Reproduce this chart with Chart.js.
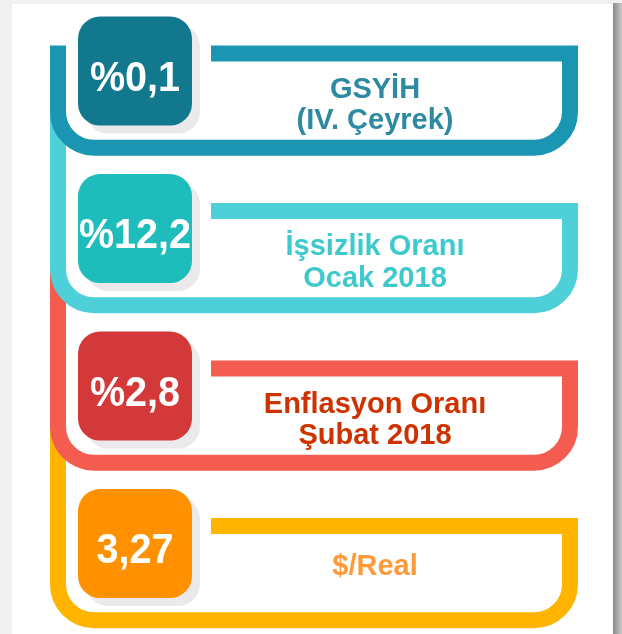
<!DOCTYPE html>
<html><head><meta charset="utf-8">
<script src="https://cdn.jsdelivr.net/npm/chart.js@4"></script>
<style>html,body{margin:0;padding:0;background:#fff}#wrap{width:622px;height:634px;position:relative}</style>
</head><body><div id="wrap"><canvas id="c"></canvas></div>
<script>
// ---- data ----
const categories = ['GSYİH', 'İşsizlik Oranı', 'Enflasyon Oranı', '$/Real'];
const subtitles = ['(IV. Çeyrek)', 'Ocak 2018', 'Şubat 2018', ''];
const values = [0.1, 12.2, 2.8, 3.27];
const prefixes = ['%', '%', '%', ''];

// ---- styles ----
const bandColors = ['#1a96b3', '#4dd0d7', '#f35c4e', '#ffb400'];
const boxColors = ['#12788e', '#1fbcbc', '#d4393a', '#ff9100'];
const textColors = ['#2e8aa2', '#3ec9cd', '#cc3300', '#ff9a3a'];

function fmt(v, p) { return p + String(v).replace('.', ','); }

const infographic = {
  id: 'infographic',
  beforeDraw(chart) {
    const ctx = chart.ctx, W = chart.width, H = chart.height;
    ctx.save();
    ctx.fillStyle = '#f0f0f0'; ctx.fillRect(0, 0, W, H);
    const g = ctx.createLinearGradient(613, 0, 622, 0);
    g.addColorStop(0, '#8a8a8a'); g.addColorStop(1, '#c8c8c8');
    ctx.fillStyle = g; ctx.fillRect(613, 3, 9, H - 3);
    ctx.fillStyle = '#ffffff'; ctx.fillRect(12, 4, 601, H - 4);
    ctx.restore();
  },
  afterDatasetsDraw(chart) {
    const ctx = chart.ctx, yS = chart.scales.y, ca = chart.chartArea;
    const x0 = ca.left;
    const L = x0 + 58, R = x0 + 570, barStart = x0 + 211, r = 36, lw = 16;
    const boxX = x0 + 78, boxW = 114, boxH = 109, boxR = 22;
    const rows = categories.map((c, i) => {
      const cy = yS.getPixelForValue(i);
      return { cy, top: cy - 27.3, bottom: cy + 67, boxTop: cy - 64.2 };
    });
    ctx.save();
    // bands (drawn bottom-up so upper bands overlap lower ones)
    for (let i = rows.length - 1; i >= 0; i--) {
      const rw = rows[i];
      const startY = i === 0 ? rw.top - lw / 2 : rows[i - 1].bottom - 50;
      ctx.beginPath();
      ctx.moveTo(L, startY);
      ctx.lineTo(L, rw.bottom - r);
      ctx.arcTo(L, rw.bottom, L + r, rw.bottom, r);
      ctx.lineTo(R - r, rw.bottom);
      ctx.arcTo(R, rw.bottom, R, rw.bottom - r, r);
      ctx.lineTo(R, rw.top);
      ctx.lineTo(barStart, rw.top);
      ctx.strokeStyle = bandColors[i];
      ctx.lineWidth = lw; ctx.lineJoin = 'miter'; ctx.lineCap = 'butt';
      ctx.stroke();
    }
    // boxes + texts
    rows.forEach((rw, i) => {
      ctx.fillStyle = '#ebe9eb';
      ctx.beginPath(); ctx.roundRect(boxX + 8, rw.boxTop + 8, boxW, boxH, boxR); ctx.fill();
      ctx.fillStyle = boxColors[i];
      ctx.beginPath(); ctx.roundRect(boxX, rw.boxTop, boxW, boxH, boxR); ctx.fill();

      ctx.save();
      ctx.translate(boxX + boxW / 2, rw.boxTop + 74);
      ctx.scale(0.92, 1);
      ctx.fillStyle = '#ffffff';
      ctx.font = 'bold 43px "Liberation Sans", Arial, sans-serif';
      ctx.textAlign = 'center'; ctx.textBaseline = 'alphabetic';
      ctx.fillText(fmt(values[i], prefixes[i]), 0, 0);
      ctx.restore();

      ctx.fillStyle = textColors[i];
      ctx.font = 'bold 29px "Liberation Sans", Arial, sans-serif';
      ctx.textAlign = 'center'; ctx.textBaseline = 'alphabetic';
      const lx = x0 + 375;
      if (subtitles[i]) {
        ctx.fillText(categories[i], lx, rw.cy + 16.75);
        ctx.fillText(subtitles[i], lx, rw.cy + 48.6);
      } else {
        ctx.fillText(categories[i], lx, rw.cy + 21.75);
      }
    });
    ctx.restore();
  }
};

new Chart(document.getElementById('c'), {
  type: 'bar',
  data: {
    labels: categories,
    datasets: [{ data: values, backgroundColor: 'rgba(0,0,0,0)', borderWidth: 0 }]
  },
  options: {
    indexAxis: 'y',
    responsive: true,
    maintainAspectRatio: false,
    animation: false,
    layout: { padding: { top: 2, bottom: 2, left: 0, right: 0 } },
    plugins: { legend: { display: false }, tooltip: { enabled: false } },
    scales: {
      x: { display: false, min: 0 },
      y: { display: false }
    }
  },
  plugins: [infographic]
});
</script>
</body></html>
